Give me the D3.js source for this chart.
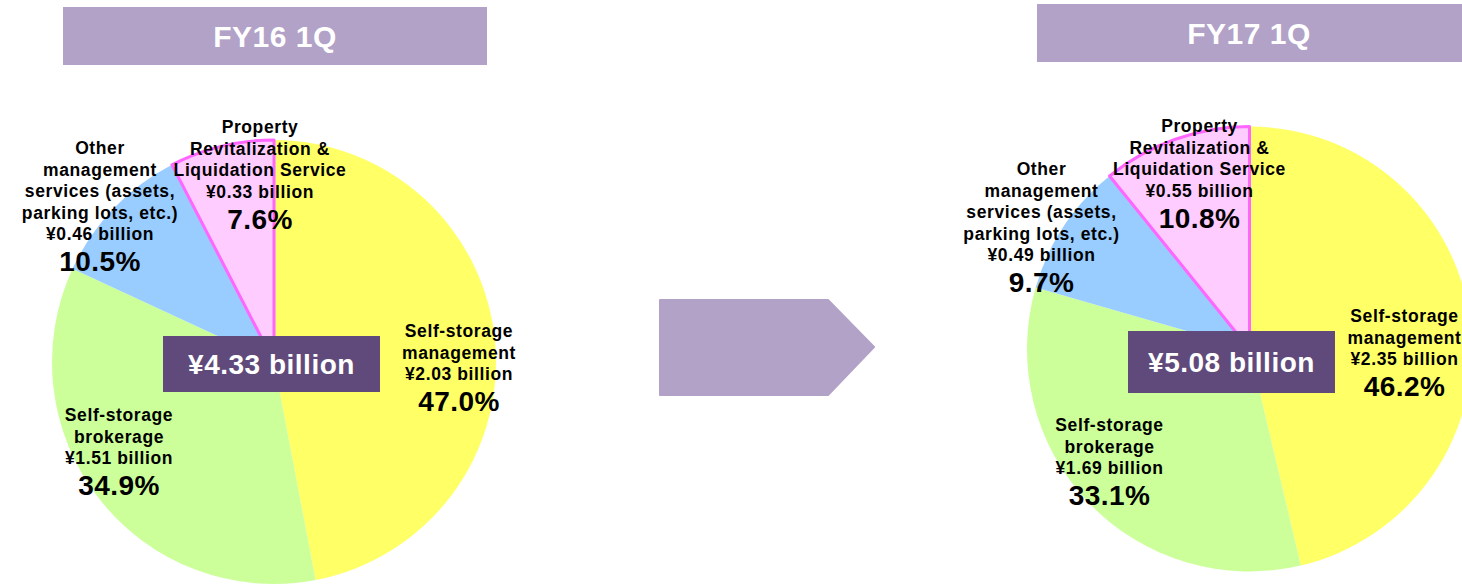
<!DOCTYPE html>
<html>
<head>
<meta charset="utf-8">
<script src="https://cdn.jsdelivr.net/npm/d3@7"></script>
<style>
  body { margin: 0; background: #fff; }
  svg { display: block; font-family: "Liberation Sans", Arial, sans-serif; font-weight: bold; }
</style>
</head>
<body>
<div id="chart"></div>
<script>
// data
var periods = ["FY16 1Q", "FY17 1Q"];
var totals = [4.33, 5.08];
var segmentLines = [
  ["Self-storage", "management"],
  ["Self-storage", "brokerage"],
  ["Other", "management", "services (assets,", "parking lots, etc.)"],
  ["Property", "Revitalization &", "Liquidation Service"]
];
var fy16Values = [2.03, 1.51, 0.46, 0.33];
var fy16Shares = [47.0, 34.9, 10.5, 7.6];
var fy17Values = [2.35, 1.69, 0.49, 0.55];
var fy17Shares = [46.2, 33.1, 9.7, 10.8];

var wide = 1462;
var high = 586;

var fills = ["#FFFF66", "#CCFF99", "#99CCFF", "#FFCCFF"];
var purple = "#B2A2C7";
var darkPurple = "#604A7B";

var svg = d3.select("#chart")
  .append("svg")
  .attr("width", wide)
  .attr("height", high);

// layout of each pie (label anchors are offsets from the pie centre)
var charts = [
  {
    values: fy16Values, shares: fy16Shares, total: totals[0], period: periods[0],
    cx: 274, cy: 362, r: 222,
    header: [63, 7, 424, 58],
    box: [163, 336, 217, 56],
    labels: [[185, -31], [-155, 53], [-174, -214], [-14, -235]]
  },
  {
    values: fy17Values, shares: fy17Shares, total: totals[1], period: periods[1],
    cx: 1249.5, cy: 349, r: 222.5,
    header: [1037, 4, 430, 58],
    box: [1128, 331, 207, 62],
    labels: [[155, -33], [-140, 76], [-208, -180], [-50, -223]]
  }
];

var pie = d3.pie().sort(null).value(function(d) { return d; });
var lineGap = 21.5;

charts.forEach(function(c) {
  // header bar
  svg.append("rect")
    .attr("x", c.header[0]).attr("y", c.header[1])
    .attr("width", c.header[2]).attr("height", c.header[3])
    .attr("fill", purple);
  svg.append("text")
    .attr("x", c.header[0] + 212)
    .attr("y", c.header[1] + c.header[3] / 2)
    .attr("dy", "0.36em")
    .attr("text-anchor", "middle")
    .attr("font-size", 30)
    .attr("letter-spacing", 0.5)
    .attr("fill", "#fff")
    .text(c.period);

  var arc = d3.arc().innerRadius(0).outerRadius(c.r);
  var g = svg.append("g").attr("transform", "translate(" + c.cx + "," + c.cy + ")");
  var arcs = pie(c.shares);

  g.selectAll("path.slice")
    .data(arcs)
    .enter()
    .append("path")
    .attr("class", "slice")
    .attr("d", arc)
    .attr("fill", function(d, i) { return fills[i]; });

  // outlined property slice
  g.append("path")
    .attr("d", arc(arcs[3]))
    .attr("fill", "none")
    .attr("stroke", "#FF66FF")
    .attr("stroke-width", 3)
    .attr("stroke-linejoin", "round");

  // labels
  arcs.forEach(function(d, i) {
    var lx = c.labels[i][0];
    var ly = c.labels[i][1];
    var lines = segmentLines[i].concat(["¥" + c.values[i].toFixed(2) + " billion"]);
    var t = g.append("g").attr("transform", "translate(" + lx + "," + ly + ")");
    lines.forEach(function(s, k) {
      t.append("text")
        .attr("x", 0)
        .attr("y", k * lineGap)
        .attr("dy", "0.36em")
        .attr("text-anchor", "middle")
        .attr("font-size", 17.5)
        .attr("letter-spacing", 0.6)
        .attr("fill", "#000")
        .text(s);
    });
    t.append("text")
      .attr("x", 0)
      .attr("y", (lines.length - 1) * lineGap + 27)
      .attr("dy", "0.36em")
      .attr("text-anchor", "middle")
      .attr("font-size", 28)
      .attr("letter-spacing", 0.4)
      .attr("fill", "#000")
      .text(c.shares[i].toFixed(1) + "%");
  });

  // total box
  svg.append("rect")
    .attr("x", c.box[0]).attr("y", c.box[1])
    .attr("width", c.box[2]).attr("height", c.box[3])
    .attr("fill", darkPurple);
  svg.append("text")
    .attr("x", c.box[0] + c.box[2] / 2)
    .attr("y", c.box[1] + c.box[3] / 2)
    .attr("dy", "0.36em")
    .attr("text-anchor", "middle")
    .attr("font-size", 28)
    .attr("letter-spacing", 0.5)
    .attr("fill", "#fff")
    .text("¥" + c.total.toFixed(2) + " billion");
});

// arrow between the two periods
svg.append("path")
  .attr("d", "M660,300 L828,300 L874,347 L828,395 L660,395 Z")
  .attr("fill", purple)
  .attr("stroke", purple)
  .attr("stroke-width", 2)
  .attr("stroke-linejoin", "round");
</script>
</body>
</html>
